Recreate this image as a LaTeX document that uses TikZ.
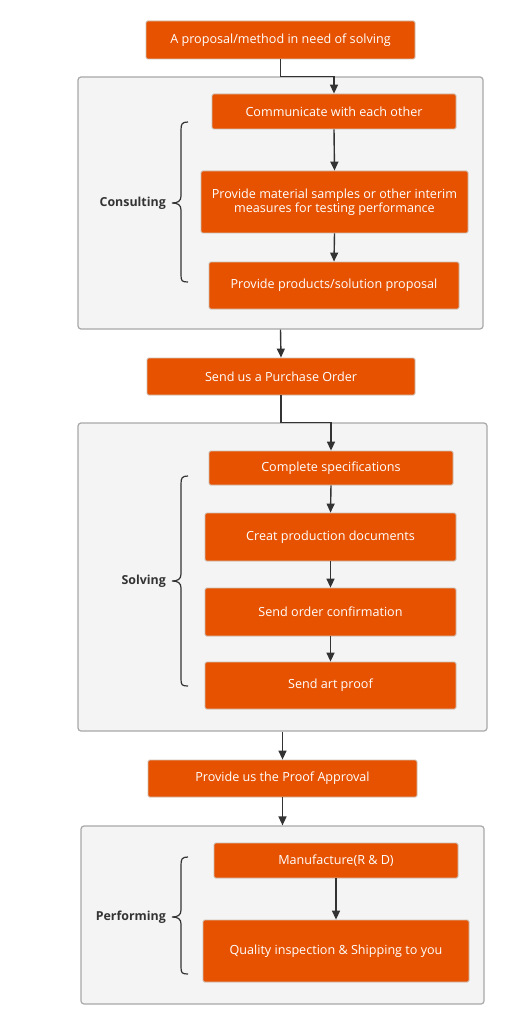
\documentclass[tikz,border=0pt]{standalone}
\usepackage{fontspec}
\setmainfont{Open Sans}
\usetikzlibrary{arrows.meta,calc}
\definecolor{orng}{RGB}{230,82,0}
\definecolor{obord}{RGB}{205,190,180}
\definecolor{frfill}{RGB}{244,244,244}
\definecolor{frdraw}{RGB}{168,168,168}
\definecolor{ink}{RGB}{51,51,51}
\begin{document}
\begin{tikzpicture}[x=1pt,y=-1pt,
  box/.style={draw=obord,line width=0.8pt,fill=orng,rounded corners=1.5pt,text=white,
    font=\fontsize{12.6}{15}\selectfont,align=center,inner sep=0pt},
  frame/.style={draw=frdraw,line width=1.2pt,fill=frfill,rounded corners=3pt,inner sep=0pt},
  arr/.style={draw=ink,line width=1.4pt,-{Triangle[length=9pt,width=8pt]}},
  brc/.style={draw=ink,line width=1.2pt},
  lbl/.style={text=ink,font=\fontsize{12.4}{15}\selectfont\bfseries,anchor=east,inner sep=0pt}]
\useasboundingbox[fill=white] (0,0) rectangle (507,1024);
% frames
\node[frame,minimum width=405pt,minimum height=252pt] (g1) at (280.5,203) {};
\node[frame,minimum width=409pt,minimum height=308pt] (g2) at (282.5,577) {};
\node[frame,minimum width=403pt,minimum height=178pt] (g3) at (282.5,915) {};
% boxes
\node[box,minimum width=269pt,minimum height=38pt] (top) at (280.5,40) {A proposal/method in need of solving};
\node[box,minimum width=244pt,minimum height=35pt] (comm) at (334,111.5) {Communicate with each other};
\node[box,minimum width=267pt,minimum height=62pt] (mat) at (334.5,202) {Provide material samples or other interim\\[-1pt] measures for testing performance};
\node[box,minimum width=250pt,minimum height=47pt] (prod) at (334,285.5) {Provide products/solution proposal};
\node[box,minimum width=268pt,minimum height=37pt] (po) at (281,376.5) {Send us a Purchase Order};
\node[box,minimum width=244pt,minimum height=34pt] (spec) at (331,468) {Complete specifications};
\node[box,minimum width=251pt,minimum height=48pt] (doc) at (330.5,537) {Creat production documents};
\node[box,minimum width=251pt,minimum height=48pt] (conf) at (330.5,612) {Send order confirmation};
\node[box,minimum width=251pt,minimum height=47pt] (art) at (330.5,685.5) {Send art proof};
\node[box,minimum width=269pt,minimum height=37pt] (appr) at (282.5,778.5) {Provide us the Proof Approval};
\node[box,minimum width=244pt,minimum height=35pt] (manu) at (336,860.5) {Manufacture(R \& D)};
\node[box,minimum width=266pt,minimum height=62pt] (qual) at (336,951) {Quality inspection \& Shipping to you};
% connectors
\draw[arr] (top.south) -- (top.south |- g1.north) -| (comm.north);
\draw[arr] (comm.south) -- (mat.north);
\draw[arr] (mat.south) -- (prod.north);
\draw[arr] (g1.south) -- (po.north);
\draw[arr] (po.south) -- (po.south |- g2.north) -| (spec.north);
\draw[arr] (spec.south) -- (doc.north);
\draw[arr] (doc.south) -- (conf.north);
\draw[arr] (conf.south) -- (art.north);
\draw[arr] (g2.south) -- (appr.north);
\draw[arr] (appr.south) -- (g3.north);
\draw[arr] (manu.south) -- (qual.north);
% braces
\draw[brc] (188,122) .. controls (182,122) and (181,124) .. (181,130) -- (181,196) .. controls (181,201) and (178,203) .. (172,203) .. controls (178,203) and (181,205) .. (181,210) -- (181,275) .. controls (181,281) and (182,282) .. (188,282);
\draw[brc] (188,476) .. controls (182,476) and (181,478) .. (181,484) -- (181,574) .. controls (181,579) and (178,581) .. (172,581) .. controls (178,581) and (181,583) .. (181,588) -- (181,679) .. controls (181,685) and (182,686) .. (188,686);
\draw[brc] (188,857) .. controls (182,857) and (181,859) .. (181,865) -- (181,910) .. controls (181,915) and (178,917) .. (172,917) .. controls (178,917) and (181,919) .. (181,924) -- (181,967) .. controls (181,973) and (182,974) .. (188,974);
% labels
\node[lbl] (l1) at (166,203) {Consulting};
\node[lbl] (l2) at (166,581) {Solving};
\node[lbl] (l3) at (166,917) {Performing};
\end{tikzpicture}
\end{document}
